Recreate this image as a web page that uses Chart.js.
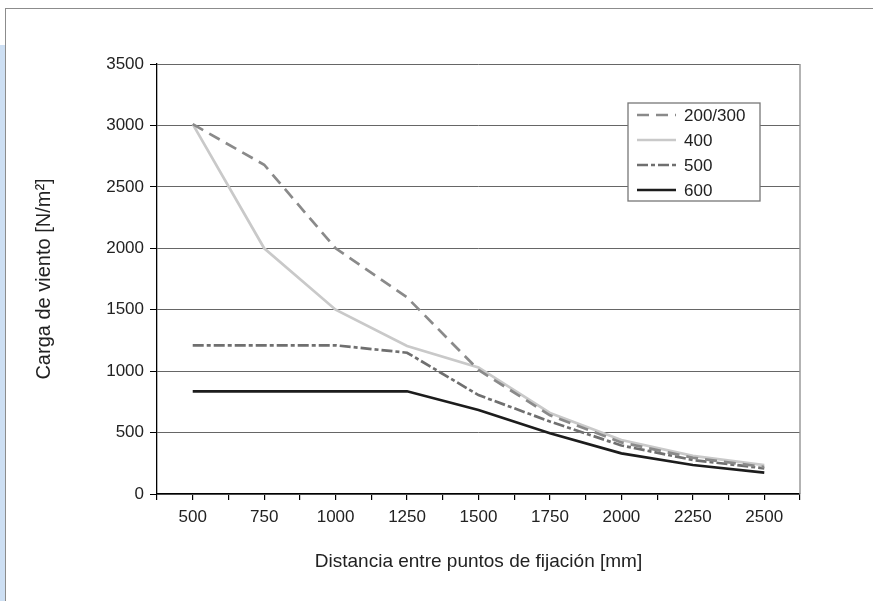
<!DOCTYPE html>
<html>
<head>
<meta charset="utf-8">
<script src="https://cdn.jsdelivr.net/npm/chart.js@4/dist/chart.umd.min.js"></script>
<style>
  html, body { margin: 0; padding: 0; background: #fff; }
  body { width: 873px; height: 601px; position: relative; overflow: hidden; }
  #frame { position: absolute; left: 5px; top: 8px; right: -2px; bottom: -2px;
           border-top: 1.5px solid #8c8c8c; border-left: 1.5px solid #8c8c8c; }
  #strip { position: absolute; left: 0; top: 45px; width: 5px; bottom: 0; background: #cddff3; }
  #wrap { position: absolute; left: 0; top: 0; width: 873px; height: 601px; }
</style>
</head>
<body>
<div id="strip"></div>
<div id="frame"></div>
<div id="wrap"><canvas id="windChart"></canvas></div>
<script>
// distances (mm) and wind load (N/m²) per profile
const distances = [500, 750, 1000, 1250, 1500, 1750, 2000, 2250, 2500];
const load200 = [3010, 2680, 2000, 1600, 1010, 640, 420, 295, 220];
const load400 = [3010, 2000, 1500, 1205, 1030, 660, 440, 310, 235];
const load500 = [1210, 1210, 1210, 1150, 805, 590, 395, 277, 209];
const load600 = [836, 836, 836, 836, 684, 494, 331, 236, 174];
const seriesNames = ['200/300', '400', '500', '600'];
const yTicks = [0, 500, 1000, 1500, 2000, 2500, 3000, 3500];

const toPoints = arr => arr.map((v, i) => ({ x: distances[i], y: v }));

const styles = [
    { color: '#8a8a8a', dash: [12, 7] },
    { color: '#c9c9c9', dash: [] },
    { color: '#6f6f6f', dash: [11, 3, 4, 3] },
    { color: '#1c1c1c', dash: [] }
];

const datasets = [load200, load400, load500, load600].map((arr, i) => ({
    label: seriesNames[i],
    data: toPoints(arr),
    borderColor: styles[i].color,
    borderDash: styles[i].dash,
    borderWidth: 2.7,
    pointRadius: 0,
    tension: 0,
    fill: false
}));

// right border of the plot + boxed legend
const extras = {
    id: 'extras',
    afterDatasetsDraw(chart) {
        const { ctx, chartArea } = chart;
        ctx.save();
        ctx.strokeStyle = '#9a9a9a';
        ctx.lineWidth = 1.5;
        ctx.beginPath();
        ctx.moveTo(chartArea.right, chartArea.top);
        ctx.lineTo(chartArea.right, chartArea.bottom);
        ctx.stroke();

        const bx = 628, by = 103, bw = 132, bh = 98;
        ctx.fillStyle = '#fff';
        ctx.fillRect(bx, by, bw, bh);
        ctx.strokeStyle = '#777';
        ctx.lineWidth = 1.3;
        ctx.strokeRect(bx, by, bw, bh);
        ctx.font = '17px "Liberation Sans", Arial, sans-serif';
        ctx.textBaseline = 'middle';
        chart.data.datasets.forEach((ds, i) => {
            const y = by + 12 + i * 25;
            ctx.strokeStyle = ds.borderColor;
            ctx.lineWidth = ds.borderWidth;
            ctx.setLineDash(ds.borderDash);
            ctx.beginPath();
            ctx.moveTo(bx + 9, y);
            ctx.lineTo(bx + 48, y);
            ctx.stroke();
            ctx.setLineDash([]);
            ctx.fillStyle = '#222';
            ctx.fillText(ds.label, bx + 56, y + 1);
        });
        ctx.restore();
    }
};

new Chart(document.getElementById('windChart'), {
    type: 'line',
    data: { datasets },
    options: {
        responsive: true,
        maintainAspectRatio: false,
        animation: false,
        layout: { padding: { left: 0, top: 64, right: 73, bottom: 0 } },
        plugins: { legend: { display: false }, tooltip: { enabled: false } },
        scales: {
            x: {
                type: 'linear',
                min: 375,
                max: 2625,
                afterFit: s => { s.height = 107; },
                border: { color: '#000', width: 1.3 },
                grid: { drawOnChartArea: false, tickLength: 6, tickColor: '#000', lineWidth: 1.2 },
                ticks: {
                    stepSize: 125,
                    autoSkip: false,
                    maxRotation: 0,
                    padding: 7,
                    color: '#222',
                    font: { family: '"Liberation Sans", Arial, sans-serif', size: 17 },
                    callback: v => (distances.includes(v) ? String(v) : '')
                },
                title: {
                    display: true,
                    text: 'Distancia entre puntos de fijación [mm]',
                    color: '#222',
                    padding: { top: 0, bottom: 28 },
                    font: { family: '"Liberation Sans Narrow", "Arial Narrow", sans-serif', size: 19 }
                }
            },
            y: {
                min: 0,
                max: 3500,
                afterFit: s => { s.width = 157; },
                afterBuildTicks: s => { s.ticks = yTicks.map(v => ({ value: v })); },
                border: { color: '#000', width: 1.3 },
                grid: { color: '#666', lineWidth: 1, tickLength: 7, tickColor: '#000' },
                ticks: {
                    padding: 6,
                    color: '#222',
                    font: { family: '"Liberation Sans", Arial, sans-serif', size: 17 },
                    callback: v => String(v)
                },
                title: {
                    display: true,
                    text: 'Carga de viento [N/m²]',
                    color: '#222',
                    padding: { top: 32, bottom: 0 },
                    font: { family: '"Liberation Sans Narrow", "Arial Narrow", sans-serif', size: 20 }
                }
            }
        }
    },
    plugins: [extras]
});
</script>
</body>
</html>
